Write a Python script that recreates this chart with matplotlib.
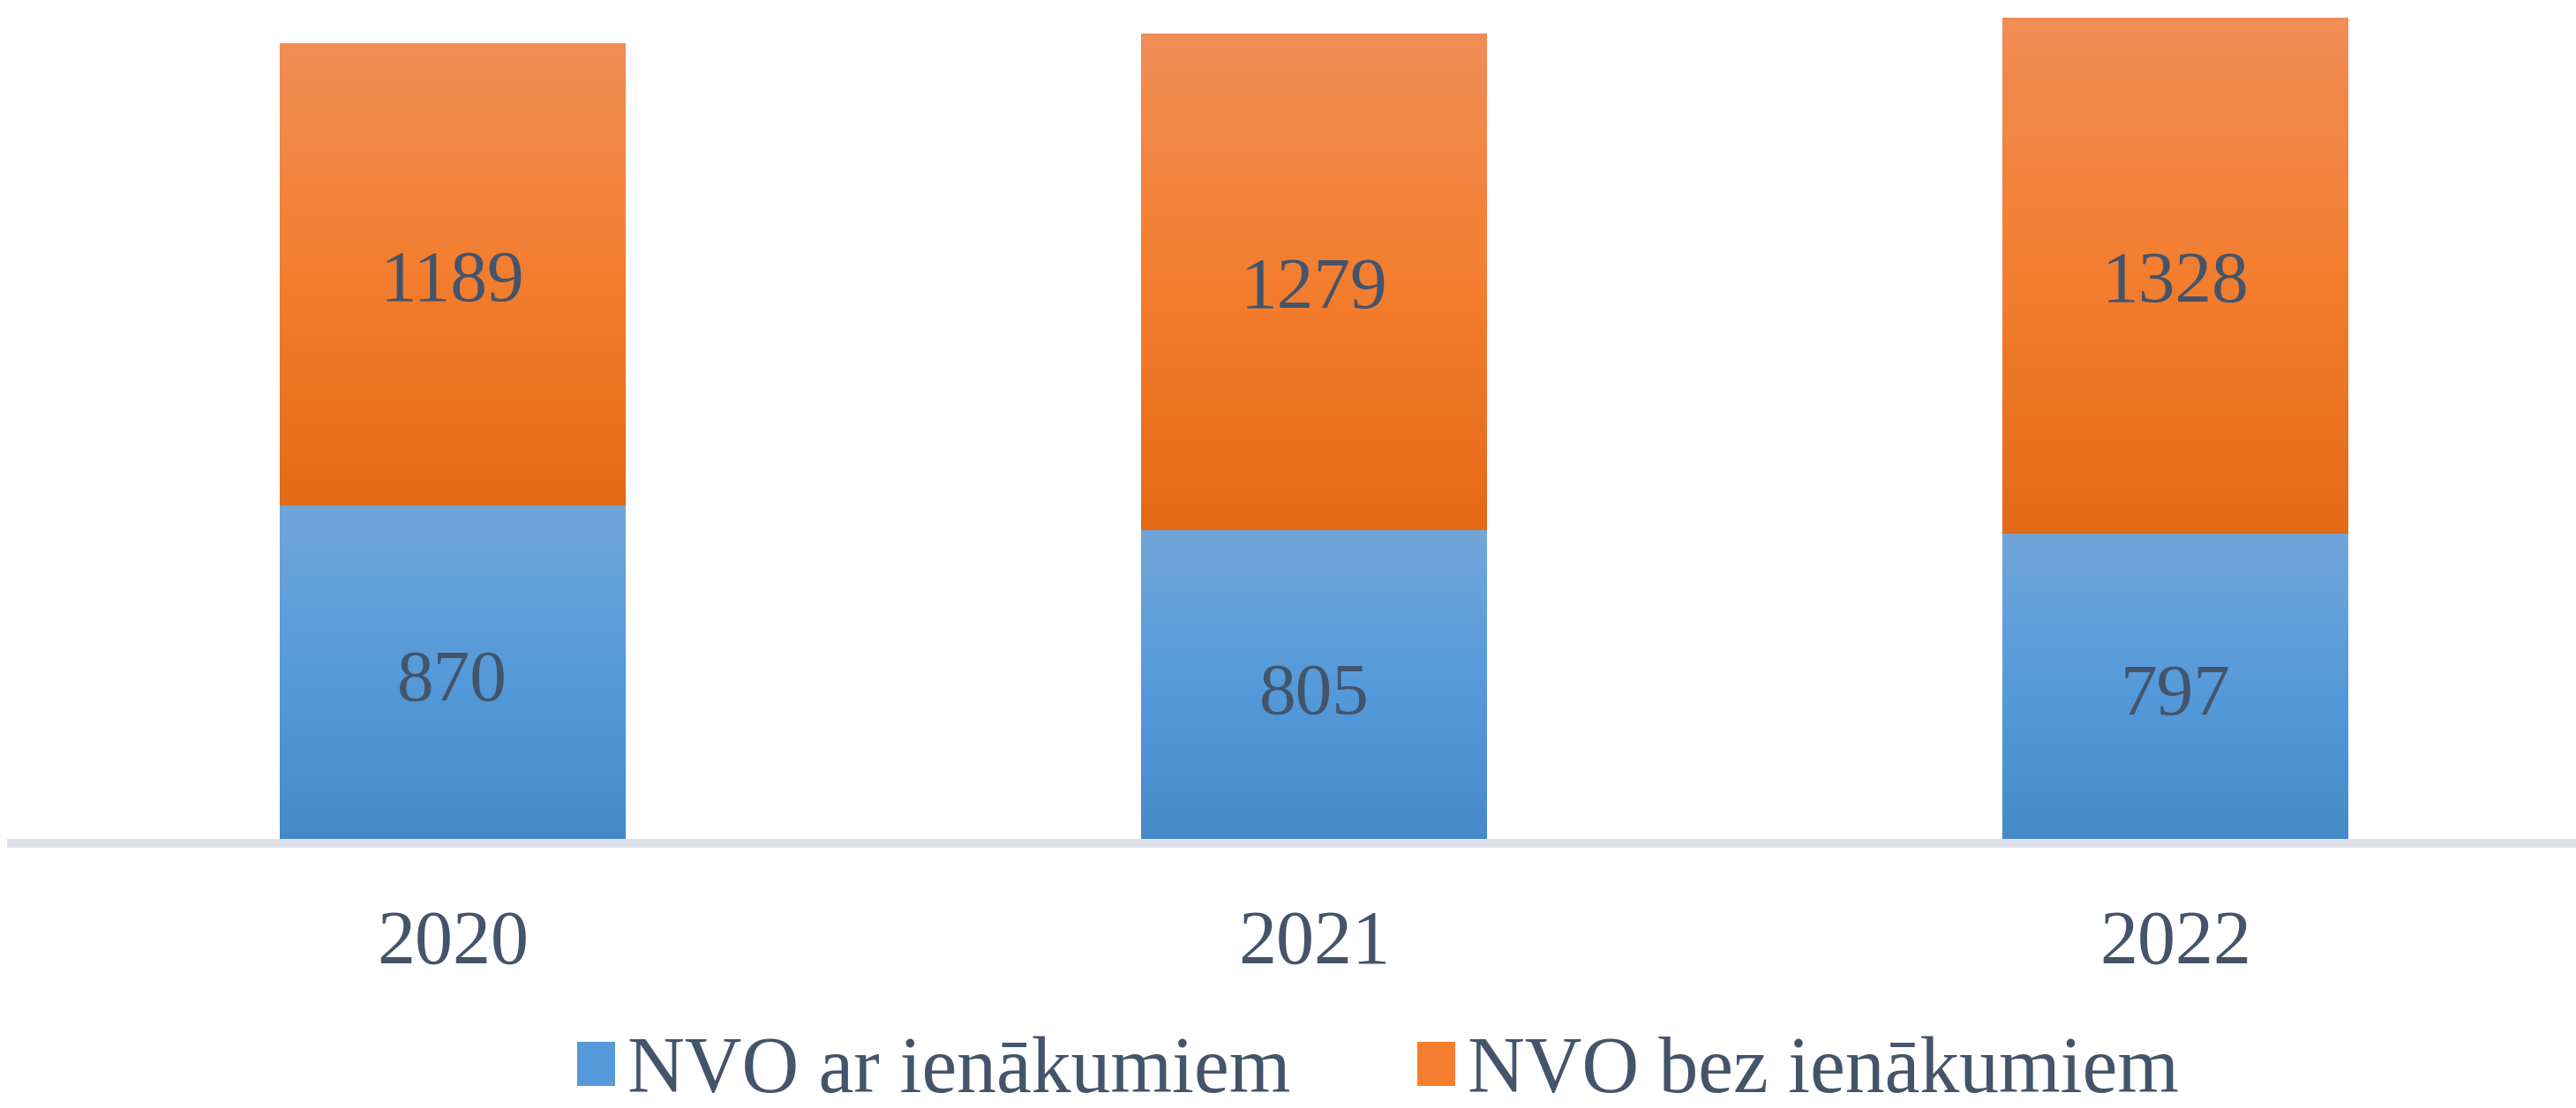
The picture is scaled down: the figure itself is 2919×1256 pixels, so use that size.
import numpy as np
import matplotlib
matplotlib.use("Agg")
import matplotlib.pyplot as plt
import matplotlib.transforms as mtransforms
from matplotlib.colors import LinearSegmentedColormap
from matplotlib.patches import Patch

# ---- data ----
years = ["2020", "2021", "2022"]
with_income = [870, 805, 797]
without_income = [1189, 1279, 1328]
series_names = ["NVO ar ienākumiem", "NVO bez ienākumiem"]

# ---- style ----
TXT = "#44546A"
FONT = ["Liberation Serif", "DejaVu Serif"]
plt.rcParams["font.family"] = FONT

blue_cmap = LinearSegmentedColormap.from_list("b", ["#4489C8", "#559ADA", "#72A6DB"])
orange_cmap = LinearSegmentedColormap.from_list("o", ["#E36A17", "#F47E2F", "#F18D56"])

W, H = 2919, 1256
fig = plt.figure(figsize=(W / 100, H / 100), dpi=100)
ax = fig.add_axes([13 / W, 300 / H, 1 - 13 / W, 956 / H])

x = np.arange(len(years))
bw = 0.401
b1 = ax.bar(x, with_income, bw, color="none", label=series_names[0], zorder=2)
b2 = ax.bar(x, without_income, bw, bottom=with_income, color="none", label=series_names[1], zorder=2)

grad = np.linspace(0, 1, 256).reshape(-1, 1)
for bars, cmap in ((b1, blue_cmap), (b2, orange_cmap)):
    for p in bars:
        x0, y0 = p.get_x(), p.get_y()
        w, h = p.get_width(), p.get_height()
        im = ax.imshow(grad, cmap=cmap, origin="lower", aspect="auto",
                       extent=[x0, x0 + w, y0, y0 + h], zorder=2,
                       interpolation="bilinear")
        im.set_clip_path(p)

# value labels in segment centres (nudged down slightly)
off = mtransforms.ScaledTranslation(0, -10 / 100, fig.dpi_scale_trans)
tr = ax.transData + off
for i in range(len(years)):
    ax.text(x[i], with_income[i] / 2, str(with_income[i]), ha="center", va="center",
            fontsize=60, color=TXT, zorder=4, transform=tr)
    ax.text(x[i], with_income[i] + without_income[i] / 2, str(without_income[i]),
            ha="center", va="center", fontsize=60, color=TXT, zorder=4, transform=tr)

ax.set_xlim(-0.512, 2.465)
ax.set_ylim(0, 2170)
ax.set_xticks(x)
ax.set_xticklabels(years, fontsize=62, color=TXT)
ax.tick_params(axis="x", length=0, pad=54)
ax.set_yticks([])
for s in ("top", "left", "right"):
    ax.spines[s].set_visible(False)
ax.spines["bottom"].set_color("#DEE2EA")
ax.spines["bottom"].set_linewidth(7.2)
ax.spines["bottom"].set_zorder(5)
ax.set_facecolor("none")

handles = [Patch(facecolor="#559ADA", edgecolor="none"),
           Patch(facecolor="#F47E2F", edgecolor="none")]
fig.legend(handles, series_names, loc="center", bbox_to_anchor=(0.535, 0.032),
           ncol=2, frameon=False, fontsize=64.5, labelcolor=TXT,
           handlelength=0.48, handleheight=0.48, handletextpad=0.16,
           columnspacing=1.6, borderpad=0, borderaxespad=0)

fig.savefig("out.png", dpi=100)
